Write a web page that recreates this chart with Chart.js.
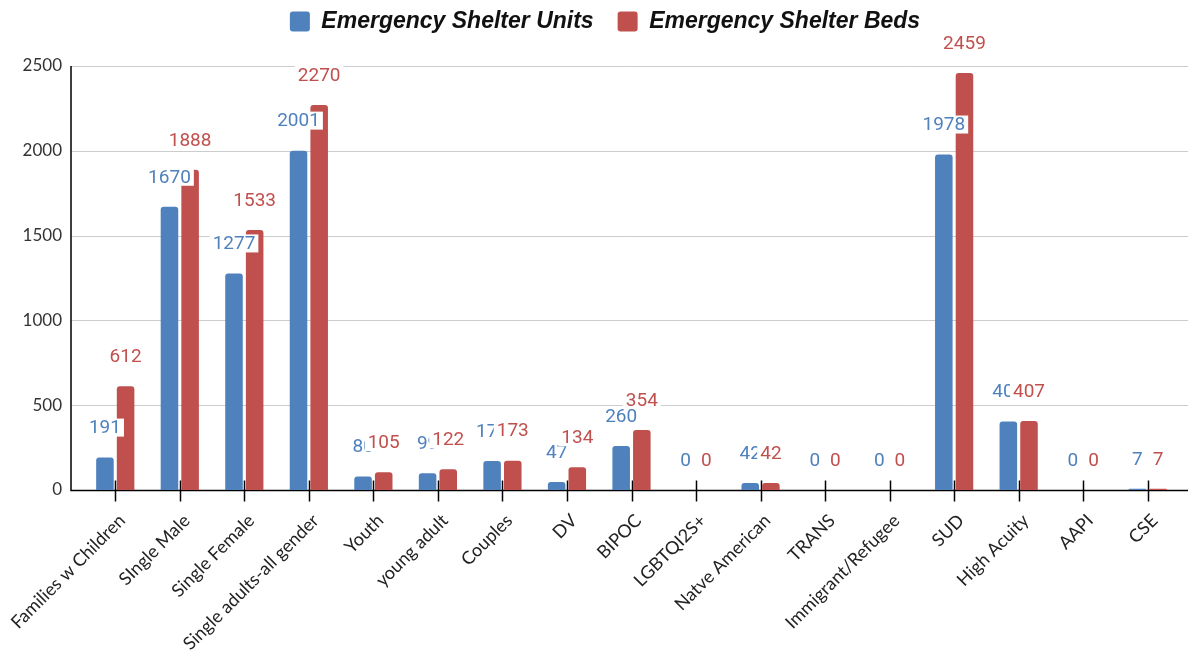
<!DOCTYPE html>
<html>
<head>
<meta charset="utf-8">
<title>Emergency Shelter Units and Beds</title>
<script src="https://cdn.jsdelivr.net/npm/chart.js@4.4.1/dist/chart.umd.min.js"></script>
<style>
  html, body { margin: 0; padding: 0; background: #fff; }
  #wrap { position: relative; width: 1189px; height: 656px; }
</style>
</head>
<body>
<div id="wrap"><canvas id="shelterChart"></canvas></div>
<script>
const categories = [
  "Families w Children", "SIngle Male", "Single Female", "Single adults-all gender",
  "Youth", "young adult", "Couples", "DV", "BIPOC", "LGBTQI2S+", "Natve American",
  "TRANS", "Immigrant/Refugee", "SUD", "High Acuity", "AAPI", "CSE"
];
const shelterUnits = [191, 1670, 1277, 2001, 80, 99, 171, 47, 260, 0, 42, 0, 0, 1978, 404, 0, 7];
const shelterBeds  = [612, 1888, 1533, 2270, 105, 122, 173, 134, 354, 0, 42, 0, 0, 2459, 407, 0, 7];
const yTicks = [0, 500, 1000, 1500, 2000, 2500];

const BLUE = "#4f81bd";
const RED = "#c0504d";

// horizontal grid, axis lines and the tick marks crossing the baseline
const axisLines = {
  id: "axisLines",
  beforeDatasetsDraw(chart) {
    const { ctx, scales: { x, y } } = chart;
    const left = 71, right = 1188;
    ctx.save();
    ctx.lineWidth = 1;
    ctx.strokeStyle = "#cccccc";
    yTicks.forEach(v => {
      if (v === 0) return;
      const py = Math.round(y.getPixelForValue(v)) + 0.5;
      ctx.beginPath();
      ctx.moveTo(left, py);
      ctx.lineTo(right, py);
      ctx.stroke();
    });
    const base = Math.round(y.getPixelForValue(0)) + 0.5;
    const top = Math.round(y.getPixelForValue(2500));
    ctx.strokeStyle = "#000";
    ctx.lineWidth = 1.5;
    ctx.beginPath();
    ctx.moveTo(left, top);
    ctx.lineTo(left, base);
    ctx.lineTo(right, base);
    ctx.stroke();
    categories.forEach((c, i) => {
      const px = Math.round(x.getPixelForValue(i)) + 0.5;
      ctx.beginPath();
      ctx.moveTo(px, base - 10);
      ctx.lineTo(px, base + 11);
      ctx.stroke();
    });
    ctx.restore();
  }
};

// value labels above each bar, on a white box
const valueLabels = {
  id: "valueLabels",
  afterDatasetsDraw(chart) {
    const { ctx } = chart;
    ctx.save();
    ctx.font = "19px Roboto";
    ctx.textAlign = "center";
    ctx.textBaseline = "middle";
    chart.data.datasets.forEach((ds, di) => {
      const meta = chart.getDatasetMeta(di);
      meta.data.forEach((bar, i) => {
        const text = String(ds.data[i]);
        const cy = bar.y - 30;
        const w = ctx.measureText(text).width + 6;
        ctx.fillStyle = "#fff";
        ctx.fillRect(bar.x - w / 2, cy - 9, w, 18);
        ctx.fillStyle = ds.backgroundColor;
        ctx.fillText(text, bar.x, cy + 1);
      });
    });
    ctx.restore();
  }
};

// fixed legend band height above the plot, nudged a little to the right
const legendBand = {
  id: "legendBand",
  afterInit(chart) {
    const legend = chart.legend;
    const fit = legend.fit;
    legend.fit = function () {
      fit.call(this);
      this.height = 80;
    };
  },
  afterLayout(chart) {
    chart.legend.left += 15;
    chart.legend.right += 15;
  }
};

new Chart(document.getElementById("shelterChart"), {
  type: "bar",
  data: {
    labels: categories,
    datasets: [
      {
        label: "Emergency Shelter Units",
        data: shelterUnits,
        backgroundColor: BLUE,
        borderWidth: 0,
        borderRadius: 3,
        barPercentage: 0.85,
        categoryPercentage: 0.64
      },
      {
        label: "Emergency Shelter Beds",
        data: shelterBeds,
        backgroundColor: RED,
        borderWidth: 0,
        borderRadius: 3,
        barPercentage: 0.85,
        categoryPercentage: 0.64
      }
    ]
  },
  options: {
    responsive: true,
    maintainAspectRatio: false,
    animation: false,
    layout: { padding: { left: 0, right: 9, top: -14, bottom: 0 } },
    plugins: {
      legend: {
        display: true,
        position: "top",
        labels: {
          boxWidth: 20,
          boxHeight: 20,
          useBorderRadius: true,
          borderRadius: 3,
          padding: 24,
          color: "#111",
          font: { family: "'Liberation Sans', Arial, sans-serif", size: 23, weight: "bold", style: "italic" }
        }
      },
      tooltip: { enabled: false }
    },
    scales: {
      x: {
        grid: { display: false, drawTicks: false },
        border: { display: false },
        ticks: {
          autoSkip: false,
          minRotation: 45,
          maxRotation: 45,
          padding: 20,
          labelOffset: 7,
          color: "#222",
          font: { family: "Lato, sans-serif", size: 18 }
        },
        afterFit(scale) {
          scale.height = 166;
          scale.paddingLeft = 0;
          scale.paddingRight = 0;
        }
      },
      y: {
        min: 0,
        max: 2500,
        grid: { display: false, drawTicks: false },
        border: { display: false },
        ticks: {
          stepSize: 500,
          padding: 21,
          color: "#333",
          font: { family: "Lato, sans-serif", size: 17 },
          callback: v => String(v)
        },
        afterFit(scale) { scale.width = 83; }
      }
    }
  },
  plugins: [axisLines, valueLabels, legendBand]
});
</script>
</body>
</html>
